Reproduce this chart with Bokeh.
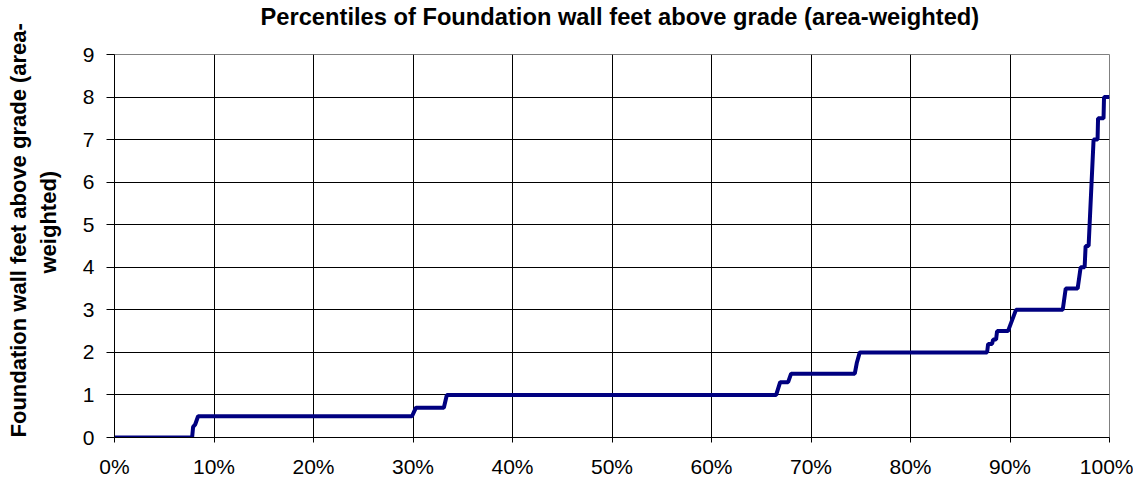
from bokeh.plotting import figure
from bokeh.models import (Range1d, FixedTicker, PrintfTickFormatter, ColumnDataSource,
                          Title)
from bokeh.embed import file_html
from bokeh.resources import INLINE

# Percentile (%) and foundation wall feet above grade (area-weighted)
percentile = [0, 7.8, 7.9, 8.1, 8.4, 29.9, 30.1, 30.3, 33.1, 33.4,
              66.5, 66.9, 67.7, 68.0, 74.4, 74.6, 74.9, 87.7, 87.8, 88.2,
              88.3, 88.6, 88.7, 89.8, 90.6, 95.3, 95.6, 96.8, 97.1, 97.5,
              97.6, 97.9, 98.0, 98.4, 98.8, 98.85, 99.4, 99.45, 100.0]
feet = [0, 0, 0.25, 0.3, 0.5, 0.5, 0.6, 0.7, 0.7, 1.0,
        1.0, 1.3, 1.3, 1.5, 1.5, 1.75, 2.0, 2.0, 2.2, 2.2,
        2.3, 2.3, 2.5, 2.5, 3.0, 3.0, 3.5, 3.5, 4.0, 4.0,
        4.5, 4.5, 5.0, 7.0, 7.0, 7.5, 7.5, 8.0, 8.0]

x_ticks = [0, 10, 20, 30, 40, 50, 60, 70, 80, 90, 100]
y_ticks = [0, 1, 2, 3, 4, 5, 6, 7, 8, 9]

title_text = "Percentiles of Foundation wall feet above grade (area-weighted)"
y_label_lines = ["Foundation wall feet above grade (area-", "weighted)"]

FONT = "Liberation Sans"

p = figure(frame_width=995, frame_height=383,
           output_backend="svg", toolbar_location=None,
           x_range=Range1d(0, 100), y_range=Range1d(0, 9),
           min_border_left=114, min_border_right=24,
           min_border_top=54, min_border_bottom=40,
           background_fill_color="white", border_fill_color="white")
p.title.text = ""
p.title.standoff = 0

src = ColumnDataSource(data=dict(x=percentile, y=feet))
p.line("x", "y", source=src, line_color="#000080", line_width=4)

# Main axes
xaxis = p.below[0]
yaxis = p.left[0]
xaxis.ticker = FixedTicker(ticks=x_ticks)
xaxis.formatter = PrintfTickFormatter(format="%d%%")
yaxis.ticker = FixedTicker(ticks=y_ticks)
for ax in (xaxis, yaxis):
    ax.major_label_text_font = FONT
    ax.major_label_text_font_size = "21px"
    ax.major_label_text_color = "black"
    ax.axis_line_color = "black"
    ax.major_tick_line_color = "black"
    ax.minor_tick_line_color = None
    ax.major_tick_in = 0
xaxis.major_tick_out = 5
xaxis.major_label_standoff = 12
yaxis.major_tick_out = 8
yaxis.major_label_standoff = 12

# Grid
p.xgrid.ticker = FixedTicker(ticks=x_ticks[1:-1])
p.ygrid.ticker = FixedTicker(ticks=y_ticks[1:])
p.grid.grid_line_color = "black"
p.grid.grid_line_width = 1
p.outline_line_color = "#808080"


def gap(size):
    # blank panel that only reserves space between the frame and a title
    return Title(text=" ", text_font_size="1px", standoff=size - 1)


# Title above, lifted by a blank gap panel
p.add_layout(gap(21), "above")
p.add_layout(Title(text=title_text, text_font=FONT, text_font_size="23.7px",
                   text_font_style="bold", text_color="black",
                   align="left", offset=146, vertical_align="top", standoff=0), "above")

# Y axis title: two lines, each its own left panel
p.add_layout(gap(17), "left")
p.add_layout(Title(text=y_label_lines[1], text_font=FONT, text_font_size="22px",
                   text_font_style="bold", text_color="black",
                   align="left", offset=164, standoff=0), "left")
p.add_layout(Title(text=y_label_lines[0], text_font=FONT, text_font_size="22px",
                   text_font_style="bold", text_color="black",
                   align="left", offset=0, standoff=6), "left")

open("out.html", "w").write(file_html(p, INLINE))
